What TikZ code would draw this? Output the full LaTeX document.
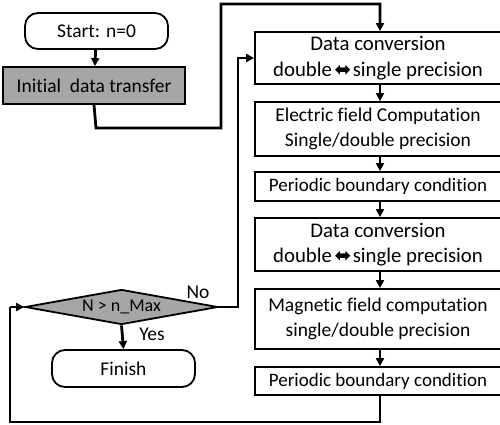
\documentclass[tikz,border=0pt]{standalone}
\usepackage{fontspec}
\setmainfont{Carlito}[Ligatures=NoCommon]
\newfontfamily\symfont{DejaVu Sans}
\usetikzlibrary{arrows.meta,shapes.geometric}
\definecolor{boxgray}{RGB}{166,166,166}
\newcommand{\dblarrow}{\kern2.5pt{\symfont\fontsize{20}{20}\selectfont\char"2B0C}\kern1.5pt}
\tikzset{
  txt/.style={font=\fontsize{19.5}{24.5}\selectfont, align=center, inner sep=0pt},
  terminal/.style={txt, draw, line width=1.8pt, rounded corners=13pt},
  procbox/.style={txt, draw, line width=1.8pt, minimum width=246pt},
  convbox/.style={procbox, font=\fontsize{20.8}{25.5}\selectfont},
  pbcbox/.style={procbox, font=\fontsize{19}{23}\selectfont},
  graybox/.style={txt, draw, line width=1.8pt, fill=boxgray},
  decision/.style={diamond, draw, line width=1.8pt, fill=boxgray, inner sep=0pt, aspect=5.5,
    font=\fontsize{18}{20}\selectfont},
  flow/.style={line width=2.8pt, -{Triangle[length=8pt,width=8pt]}},
  lbl/.style={font=\fontsize{19.5}{23}\selectfont, inner sep=0pt}
}
\begin{document}
\begin{tikzpicture}[x=1pt,y=-1pt]
\useasboundingbox (0,0) rectangle (500,424);

% left column
\node[terminal, minimum width=143pt, minimum height=36pt] (start) at (96.5,31) {Start: n=0};
\node[graybox, minimum width=182pt, minimum height=37pt] (init) at (94,85.5) {Initial\ \ data transfer};
\node[decision, minimum width=193pt, minimum height=35pt] (test) at (121.5,307) {N > n\_Max};
\node[terminal, minimum width=143pt, minimum height=37pt] (finish) at (123.5,368.5) {Finish};

% right column of processing steps
\node[convbox, minimum height=52pt] (conv1) at (378,58) {Data conversion\\double\dblarrow single precision};
\node[procbox, minimum height=54pt] (efield) at (378,129) {Electric field Computation\\Single/double precision};
\node[pbcbox, minimum height=29pt] (pbc1) at (378,186.5) {Periodic boundary condition};
\node[convbox, minimum height=53pt] (conv2) at (378,244.5) {Data conversion\\double\dblarrow single precision};
\node[procbox, minimum height=60pt] (mfield) at (378,319) {Magnetic field computation\\single/double precision};
\node[pbcbox, minimum height=28pt] (pbc2) at (378,381) {Periodic boundary condition};

% routing points
\coordinate (c1) at (96,128);
\coordinate (c2) at (221,128);
\coordinate (c3) at (221,4);
\coordinate (c4) at (380,4);
\coordinate (n1) at (238,307);
\coordinate (n2) at (238,58);
\coordinate (l1) at (380,422);
\coordinate (l2) at (10,422);
\coordinate (l3) at (10,307);

% connectors
\draw[flow] (start) -- (init);
\draw[flow] (init.south) -- (c1) -- (c2) -- (c3) -- (c4) -- (c4 |- conv1.north);
\draw[flow] ([xshift=2pt]conv1.south) -- ([xshift=2pt]efield.north);
\draw[flow] ([xshift=2pt]efield.south) -- ([xshift=2pt]pbc1.north);
\draw[flow] ([xshift=2pt]pbc1.south) -- ([xshift=2pt]conv2.north);
\draw[flow] ([xshift=2pt]conv2.south) -- ([xshift=2pt]mfield.north);
\draw[flow] ([xshift=2pt]mfield.south) -- ([xshift=2pt]pbc2.north);
\draw[flow, -] ([xshift=2pt]pbc2.south) -- (l1) -- (l2) -- (l3);
\draw[flow] (l3) -- (test.west);
\draw[flow] (test.east) -- (n1) -- (n2) -- (conv1.west);
\draw[flow] (test.south) -- (finish.north);

% branch labels
\node[lbl] (no) at (198,292) {No};
\node[lbl] (yes) at (152,334) {Yes};
\end{tikzpicture}
\end{document}
